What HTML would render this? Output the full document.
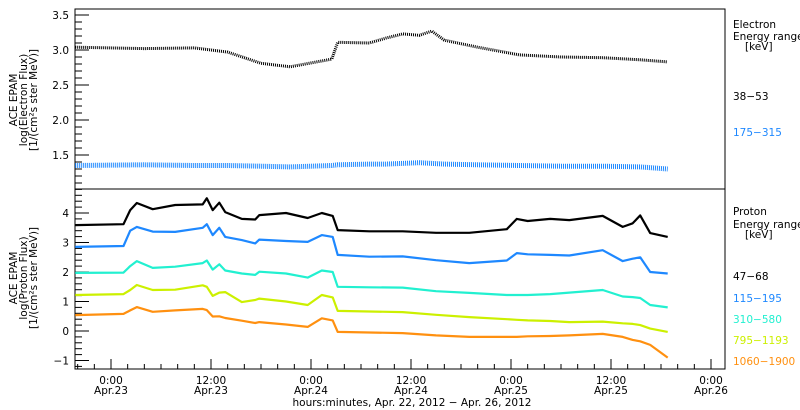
<!DOCTYPE html>
<html><head><meta charset="utf-8">
<style>
html,body{margin:0;padding:0;background:#fff;}
svg{display:block;font-family:"DejaVu Sans","Liberation Sans",sans-serif;}
text{font-size:10.5px;}
</style></head>
<body>
<svg id="chart" width="800" height="410" viewBox="0 0 800 410" xmlns="http://www.w3.org/2000/svg">
<g id="axes"></g>
<g id="series"></g>
<g id="labels">
  <text transform="translate(17,100) rotate(-90)" text-anchor="middle">ACE EPAM</text>
  <text transform="translate(27,100) rotate(-90)" text-anchor="middle">log(Electron Flux)</text>
  <text transform="translate(37,100) rotate(-90)" text-anchor="middle">[1/(cm²s ster MeV)]</text>
  <text transform="translate(17,278) rotate(-90)" text-anchor="middle">ACE EPAM</text>
  <text transform="translate(27,278) rotate(-90)" text-anchor="middle">log(Proton Flux)</text>
  <text transform="translate(37,278) rotate(-90)" text-anchor="middle">[1/(cm²s ster MeV)]</text>
  <text x="412" y="406" text-anchor="middle">hours:minutes, Apr. 22, 2012 − Apr. 26, 2012</text>
  <g>
    <text x="733" y="28" font-size="12">Electron</text>
    <text x="733" y="40" font-size="12">Energy range</text>
    <text x="745" y="50" font-size="12">[keV]</text>
    <text x="733" y="100" font-size="12" fill="#000">38−53</text>
    <text x="733" y="136" fill="#1e88ff">175−315</text>
  </g>
  <g>
    <text x="733" y="215" font-size="12">Proton</text>
    <text x="733" y="228" font-size="12">Energy range</text>
    <text x="745" y="238" font-size="12">[keV]</text>
    <text x="733" y="280" font-size="12" fill="#000">47−68</text>
    <text x="733" y="302" fill="#1e88ff">115−195</text>
    <text x="733" y="323" fill="#22f0d0">310−580</text>
    <text x="733" y="344" fill="#ccf000">795−1193</text>
    <text x="733" y="365" fill="#ff9010">1060−1900</text>
  </g>
</g>
</svg>
<script>
// electron data (hours since Apr.23 0:00)
const eTimes = [-4.3, 4, 10, 14, 18, 21.5, 26.5, 27.2, 31, 33, 35, 37, 38.5, 40, 44, 49, 54, 59, 63.5, 66.8];
const e38_53 = [3.04,3.02,3.03,2.97,2.81,2.76,2.87,3.11,3.10,3.17,3.23,3.21,3.27,3.14,3.04,2.93,2.90,2.89,2.86,2.83];
const e175_315 = [1.35,1.36,1.35,1.35,1.34,1.33,1.35,1.36,1.37,1.37,1.38,1.39,1.38,1.37,1.36,1.35,1.34,1.34,1.33,1.30];
// proton data
const pTimes = [-4.3,1.5,2.3,3.1,5,7.7,11,11.5,12.2,13,13.7,15.7,17.3,17.8,21,23.6,25.3,26.6,27.2,31,35,39,43,47.5,48.7,50,52.7,55,59,61.4,62.6,63.5,64.7,66.8];
const p47_68 = [3.59,3.62,4.10,4.34,4.13,4.27,4.29,4.50,4.10,4.35,4.03,3.80,3.78,3.93,4.00,3.83,4.00,3.90,3.42,3.38,3.38,3.33,3.33,3.45,3.80,3.73,3.80,3.76,3.90,3.53,3.65,3.92,3.32,3.19];
const p115_195 = [2.85,2.88,3.40,3.53,3.37,3.36,3.50,3.62,3.25,3.50,3.19,3.08,2.97,3.10,3.05,3.02,3.25,3.19,2.58,2.52,2.53,2.40,2.30,2.39,2.64,2.60,2.58,2.56,2.74,2.37,2.45,2.50,2.00,1.95];
const p310_580 = [1.97,1.98,2.20,2.37,2.14,2.18,2.30,2.39,2.08,2.26,2.05,1.95,1.90,2.01,1.95,1.81,2.05,2.00,1.50,1.48,1.47,1.35,1.29,1.22,1.22,1.22,1.25,1.30,1.39,1.17,1.15,1.12,0.88,0.80];
const p795_1193 = [1.22,1.25,1.39,1.56,1.39,1.40,1.55,1.50,1.19,1.30,1.32,0.98,1.05,1.10,1.00,0.88,1.22,1.14,0.68,0.66,0.64,0.55,0.47,0.40,0.38,0.36,0.34,0.30,0.32,0.26,0.24,0.20,0.08,-0.03];
const p1060_1900 = [0.54,0.58,0.70,0.81,0.65,0.70,0.75,0.71,0.49,0.50,0.44,0.35,0.27,0.30,0.22,0.14,0.43,0.36,-0.03,-0.05,-0.07,-0.15,-0.20,-0.20,-0.20,-0.18,-0.17,-0.15,-0.10,-0.20,-0.30,-0.35,-0.47,-0.90];
const eTicks = ["3.5","3.0","2.5","2.0","1.5"];
const pTicks = ["4","3","2","1","0","-1"];
const xTickTimes = ["0:00","12:00","0:00","12:00","0:00","12:00","0:00"];
const xTickDates = ["Apr.23","Apr.23","Apr.24","Apr.24","Apr.25","Apr.25","Apr.26"];

const NS="http://www.w3.org/2000/svg";
const L=75,R=725,T1=9,B1=189,B2=369;
const x=h=>111+h*(100/12);
const yE=v=>50-(v-3.0)*70;
const yP=v=>331-v*29.5;
const axes=document.getElementById('axes'), ser=document.getElementById('series'), lab=document.getElementById('labels');
function mk(tag,attrs,parent){const e=document.createElementNS(NS,tag);for(const k in attrs)e.setAttribute(k,attrs[k]);parent.appendChild(e);return e;}

const frame=mk('rect',{x:L,y:T1,width:R-L,height:B2-T1,fill:'none',stroke:'#000','stroke-width':1},axes);


const div=mk('line',{x1:L,x2:R,y1:B1,y2:B1,stroke:'#000'},axes);



for(let i=11;i<=35;i++){const v=i/10;const y=yE(v);if(y<T1||y>B1)continue;const major=(i%5===0);
  mk('line',{x1:L,x2:L+(major?14:7),y1:y,y2:y,stroke:'#000'},axes);}
eTicks.forEach(t=>{const el=mk('text',{x:L-6,y:yE(parseFloat(t))+4,'text-anchor':'end','font-size':12},lab);el.textContent=t;
  
  });
for(let i=-6;i<=24;i++){const v=i/5;const y=yP(v);if(y<B1||y>B2)continue;const major=(i%5===0);
  mk('line',{x1:L,x2:L+(major?14:7),y1:y,y2:y,stroke:'#000'},axes);}
pTicks.forEach(t=>{const el=mk('text',{x:L-6,y:yP(parseFloat(t))+4,'text-anchor':'end','font-size':12},lab);el.textContent=t.replace('-','−');
  
  });
for(let h=-4;h<=72;h+=2){const xx=x(h);if(xx<L||xx>R)continue;const major=(h%12===0);
  mk('line',{x1:xx,x2:xx,y1:B2,y2:B2-(major?10:5),stroke:'#000'},axes);}
xTickTimes.forEach((t,i)=>{const xx=x(i*12);
  const a=mk('text',{x:xx,y:384,'text-anchor':'middle'},lab);a.textContent=t;
  
  
  const b=mk('text',{x:xx,y:394,'text-anchor':'middle'},lab);b.textContent=xTickDates[i];
  
  });

function draw(times,vals,yf,color,name,w,dash){
  const pts=times.map((t,i)=>x(t).toFixed(1)+','+yf(vals[i]).toFixed(1)).join(' ');
  const p=mk('polyline',{points:pts,fill:'none',stroke:color,'stroke-width':w,'stroke-linejoin':'round'},ser);
  if(dash)p.setAttribute('stroke-dasharray',dash);
  
  
}
draw(eTimes,e38_53,yE,'#000','electron-38-53-series',3,'1 1');
draw(eTimes,e175_315,yE,'#1e88ff','electron-175-315-series',5,'1 1');
draw(pTimes,p47_68,yP,'#000','proton-47-68-series',2.2);
draw(pTimes,p115_195,yP,'#1e88ff','proton-115-195-series',2.2);
draw(pTimes,p310_580,yP,'#22f0d0','proton-310-580-series',2.2);
draw(pTimes,p795_1193,yP,'#ccf000','proton-795-1193-series',2.2);
draw(pTimes,p1060_1900,yP,'#ff9010','proton-1060-1900-series',2.2);
</script>
</body></html>
